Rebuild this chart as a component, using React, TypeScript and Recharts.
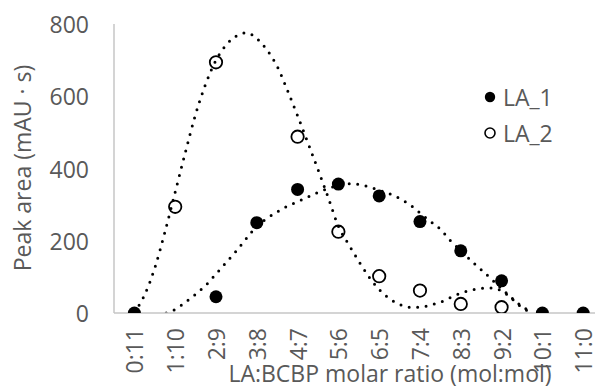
import React from 'react';
import { ComposedChart, Scatter, Line, XAxis, YAxis, Legend, Label } from 'recharts';

const categories = ['0:11', '1:10', '2:9', '3:8', '4:7', '5:6', '6:5', '7:4', '8:3', '9:2', '10:1', '11:0'];
const la1Values: (number | null)[] = [0, null, 45, 250, 342, 357, 324, 253, 172, 89, 0, 0];
const la2Values: (number | null)[] = [null, 294, 694, null, 488, 225, 102, 62, 25, 16, null, null];

const trend1X = [0.78, 1, 1.25, 1.5, 1.75, 2, 2.25, 2.5, 2.75, 3, 3.25, 3.5, 3.75, 4, 4.25, 4.5, 4.75, 5, 5.25, 5.5, 5.75, 6, 6.25, 6.5, 6.75, 7, 7.25, 7.5, 7.75, 8, 8.25, 8.5, 8.75, 9, 9.25, 9.5, 9.75];
const trend1Y = [0, 10, 30, 52, 77, 108, 140, 172, 207, 240, 262, 280, 296, 308, 321, 334, 345, 353, 358, 356, 349, 340, 330, 317, 300, 277, 254, 232, 200, 173, 145, 120, 94, 67, 42, 18, 3];

const trend2X = [0, 0.25, 0.5, 0.75, 1, 1.25, 1.5, 1.75, 2, 2.25, 2.5, 2.75, 3, 3.25, 3.5, 3.75, 4, 4.25, 4.5, 4.75, 5, 5.25, 5.5, 5.75, 6, 6.25, 6.5, 6.75, 7, 7.25, 7.5, 7.75, 8, 8.25, 8.5, 8.75, 9, 9.25, 9.5, 9.7];
const trend2Y = [2, 50, 125, 225, 335, 445, 550, 635, 700, 742, 767, 776, 760, 728, 683, 617, 546, 472, 397, 320, 240, 190, 143, 100, 65, 40, 24, 16, 16, 22, 30, 43, 55, 63, 68, 69, 61, 40, 15, 3];

const yTicks = [0, 200, 400, 600, 800];
const seriesNames = ['LA_1', 'LA_2'];

const toPoints = (vals: (number | null)[]) =>
  vals.map((v, i) => (v === null ? null : { x: i, y: v })).filter(Boolean) as { x: number; y: number }[];
const toTrend = (xs: number[], ys: number[]) => xs.map((x, i) => ({ x, y: ys[i] }));

const la1Data = toPoints(la1Values);
const la2Data = toPoints(la2Values);
const trend1Data = toTrend(trend1X, trend1Y);
const trend2Data = toTrend(trend2X, trend2Y);

const FONT = '"Open Sans", sans-serif';
const GRAY = '#595959';
const FS = 23;

const XTick = (props: any) => {
  const { x, y, payload } = props;
  return (
    <text
      transform={`translate(${x},${y + 15}) rotate(-90)`}
      textAnchor="end"
      dominantBaseline="central"
      fontFamily={FONT}
      fontSize={FS}
      fill={GRAY}
    >
      {categories[payload.value]}
    </text>
  );
};

const YTick = (props: any) => {
  const { x, y, payload } = props;
  return (
    <text x={x - 25} y={y} textAnchor="end" dominantBaseline="central" fontFamily={FONT} fontSize={FS} fill={GRAY}>
      {payload.value}
    </text>
  );
};

const FilledDot = (props: any) => <circle cx={props.cx} cy={props.cy} r={6.5} fill="#000" />;
const OpenDot = (props: any) => (
  <circle cx={props.cx} cy={props.cy} r={6.2} fill="none" stroke="#000" strokeWidth={1.8} />
);

const LegendContent = () => (
  <svg width={115} height={60} style={{ display: 'block', overflow: 'visible' }}>
    <circle cx={10} cy={12} r={5.2} fill="#000" />
    <text x={23} y={12} dominantBaseline="central" fontFamily={FONT} fontSize={FS} fill={GRAY}>
      {seriesNames[0]}
    </text>
    <circle cx={10} cy={48} r={5} fill="none" stroke="#000" strokeWidth={1.6} />
    <text x={23} y={48} dominantBaseline="central" fontFamily={FONT} fontSize={FS} fill={GRAY}>
      {seriesNames[1]}
    </text>
  </svg>
);

export default function App() {
  return (
    <div style={{ position: 'absolute', left: 0, top: 0, width: 595, height: 389, overflow: 'hidden', background: '#fff' }}>
      <ComposedChart width={595} height={389} margin={{ top: 24, right: 0, bottom: 0, left: 0 }}>
        <XAxis
          type="number"
          dataKey="x"
          domain={[-0.5, 11.29]}
          ticks={[0, 1, 2, 3, 4, 5, 6, 7, 8, 9, 10, 11]}
          allowDataOverflow
          height={76}
          stroke="#c6c6c6"
          strokeWidth={1.5}
          tickLine={false}
          tickSize={0}
          tickMargin={0}
          tick={<XTick />}
          interval={0}
        >
          <Label
            content={() => (
              <text x={390} y={373} textAnchor="middle" dominantBaseline="central" fontFamily={FONT} fontSize={FS} fill={GRAY}>
                LA:BCBP molar ratio (mol:mol)
              </text>
            )}
          />
        </XAxis>
        <YAxis
          type="number"
          dataKey="y"
          domain={[0, 800]}
          ticks={yTicks}
          allowDataOverflow
          width={114}
          stroke="#c6c6c6"
          strokeWidth={1.5}
          tickLine={false}
          tickSize={0}
          tickMargin={0}
          tick={<YTick />}
          interval={0}
        >
          <Label
            content={() => (
              <text
                transform="translate(22,168) rotate(-90)"
                textAnchor="middle"
                dominantBaseline="central"
                fontFamily={FONT}
                fontSize={FS}
                fill={GRAY}
              >
                Peak area (mAU · s)
              </text>
            )}
          />
        </YAxis>
        <Scatter name="LA_2" data={la2Data} dataKey="y" shape={<OpenDot />} isAnimationActive={false} />
        <Scatter name="LA_1" data={la1Data} dataKey="y" shape={<FilledDot />} isAnimationActive={false} />
        <Line
          data={trend1Data}
          dataKey="y"
          type="monotone"
          stroke="#000"
          strokeWidth={3}
          strokeDasharray="0 8.5"
          strokeLinecap="round"
          dot={false}
          activeDot={false}
          isAnimationActive={false}
          legendType="none"
        />
        <Line
          data={trend2Data}
          dataKey="y"
          type="monotone"
          stroke="#000"
          strokeWidth={3}
          strokeDasharray="0 8.5"
          strokeLinecap="round"
          dot={false}
          activeDot={false}
          isAnimationActive={false}
          legendType="none"
        />
        <Legend
          layout="horizontal"
          verticalAlign="middle"
          align="center"
          content={<LegendContent />}
          wrapperStyle={{ position: 'absolute', left: 480, top: 85, width: 115, height: 60 }}
        />
      </ComposedChart>
    </div>
  );
}
